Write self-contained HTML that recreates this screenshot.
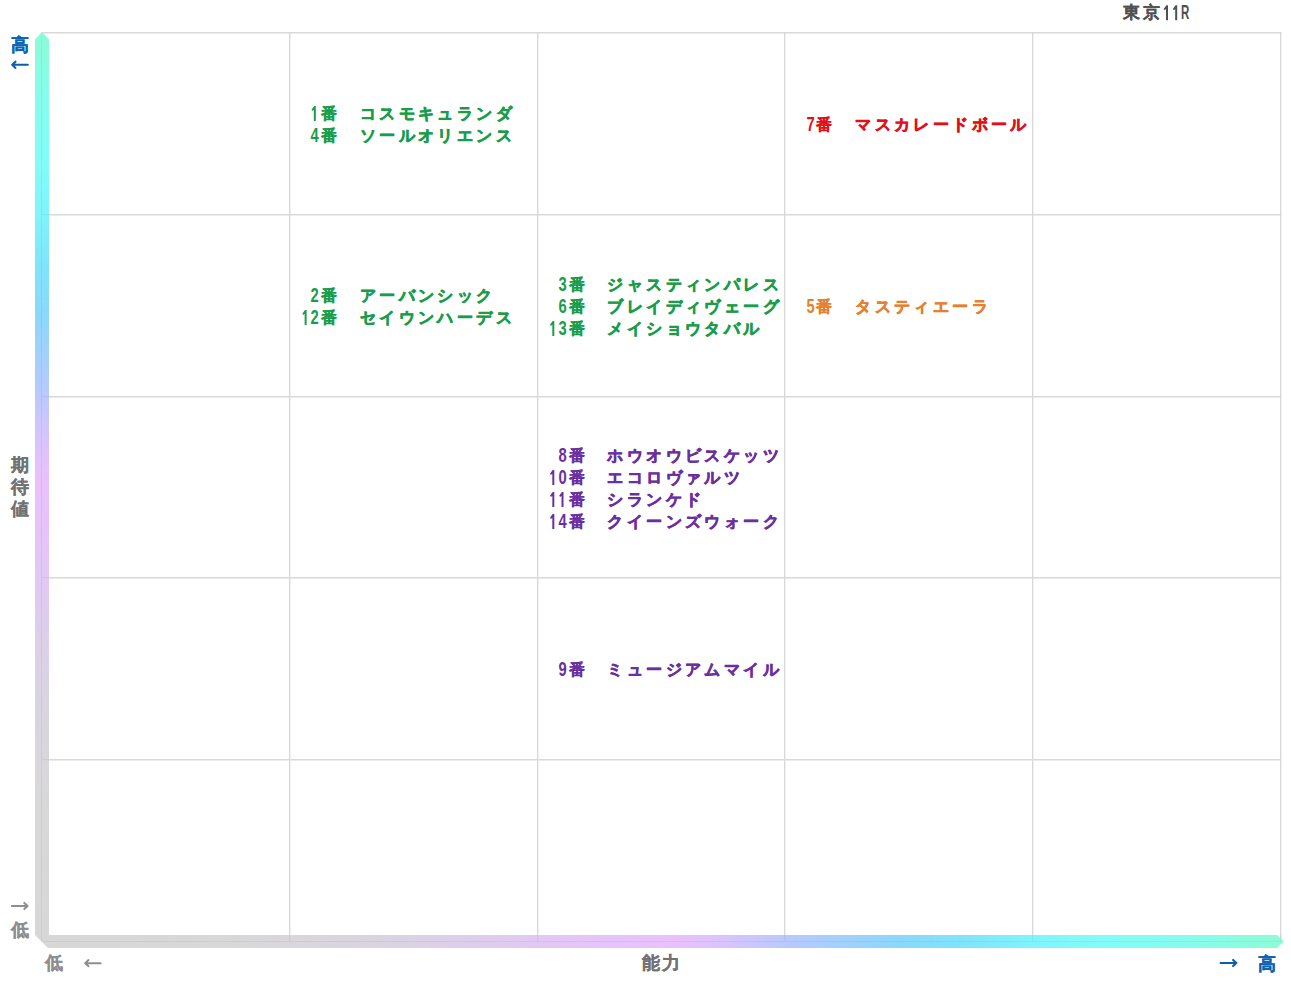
<!DOCTYPE html>
<html><head><meta charset="utf-8">
<style>
html,body{margin:0;padding:0;background:#fff;}
body{width:1291px;height:983px;position:relative;overflow:hidden;font-family:"Liberation Sans",sans-serif;font-weight:bold;}
.t{position:absolute;white-space:pre;font-size:18px;line-height:22px;letter-spacing:1px;}
.g{color:#1a9d4b}.r{color:#e0111b}.o{color:#e57f31}.p{color:#6b2f9f}
.lab{position:absolute;font-size:18px;line-height:18px;white-space:pre;}
.blue{color:#0b63b3}.grey{color:#727272}.lgrey{color:#8e8e8e}
.n2{display:inline-block;font-size:20px;letter-spacing:2.5px;transform:scaleX(.65);transform-origin:0 50%;-webkit-text-stroke:0;position:relative;left:0px;top:1px;}

.blk{position:absolute;width:247px;height:181px;display:flex;align-items:center;}
.in{position:relative;top:2px;margin-left:0px;font-size:16px;line-height:22px;letter-spacing:3.4px;white-space:pre;-webkit-text-stroke:0.6px currentColor;}
.in div{height:22px;}
.n{display:inline-block;width:30px;margin-right:1.5px;text-align:right;font-size:0;letter-spacing:0;vertical-align:top;line-height:22px;-webkit-text-stroke:0;white-space:nowrap;}
.d{display:inline-block;width:12.78px;margin-right:-3.58px;font-size:20.5px;text-align:center;transform:scaleX(.72);transform-origin:0 50%;font-style:normal;line-height:22px;vertical-align:top;position:relative;top:-1px;}
.one{display:inline-block;width:9.2px;height:22px;vertical-align:top;position:relative;}
.one::after{content:"";position:absolute;left:0;top:0;width:9.2px;height:22px;background:currentColor;
clip-path:polygon(4.0px 3.6px,5.5px 3.6px,5.5px 18.6px,3.5px 18.6px,3.5px 7.2px,2.2px 8.6px,1.2px 7.3px,3.3px 4.3px);}
.lab{-webkit-text-stroke:0.2px currentColor;}
.ban{-webkit-text-stroke:0.25px currentColor;}
</style></head><body>
<svg width="1291" height="983" style="position:absolute;left:0;top:0">
<defs>
<linearGradient id="gv" gradientUnits="userSpaceOnUse" x1="0" y1="941" x2="0" y2="32"><stop offset="0" stop-color="#d7d7d7"/><stop offset="0.15" stop-color="#d8d8d8"/>
<stop offset="0.265" stop-color="#d9d4e0"/><stop offset="0.322" stop-color="#dcd0e8"/>
<stop offset="0.40" stop-color="#e1c8f4"/><stop offset="0.448" stop-color="#e5c4fa"/>
<stop offset="0.51" stop-color="#eac0fc"/><stop offset="0.553" stop-color="#d8c4fc"/>
<stop offset="0.60" stop-color="#bac9fc"/><stop offset="0.642" stop-color="#a4d0fc"/>
<stop offset="0.692" stop-color="#8ad8fc"/><stop offset="0.741" stop-color="#7fe4fa"/>
<stop offset="0.80" stop-color="#80f4fc"/><stop offset="0.86" stop-color="#82fcf8"/>
<stop offset="0.93" stop-color="#86fcec"/><stop offset="1" stop-color="#8cfcd6"/></linearGradient>
<linearGradient id="gh" gradientUnits="userSpaceOnUse" x1="42" y1="0" x2="1280" y2="0"><stop offset="0" stop-color="#d7d7d7"/><stop offset="0.15" stop-color="#d8d8d8"/>
<stop offset="0.265" stop-color="#d9d4e0"/><stop offset="0.322" stop-color="#dcd0e8"/>
<stop offset="0.40" stop-color="#e1c8f4"/><stop offset="0.448" stop-color="#e5c4fa"/>
<stop offset="0.51" stop-color="#eac0fc"/><stop offset="0.553" stop-color="#d8c4fc"/>
<stop offset="0.60" stop-color="#bac9fc"/><stop offset="0.642" stop-color="#a4d0fc"/>
<stop offset="0.692" stop-color="#8ad8fc"/><stop offset="0.741" stop-color="#7fe4fa"/>
<stop offset="0.80" stop-color="#80f4fc"/><stop offset="0.86" stop-color="#82fcf8"/>
<stop offset="0.93" stop-color="#86fcec"/><stop offset="1" stop-color="#8cfcd6"/></linearGradient>
</defs>
<g stroke="#d9d9d9" stroke-width="1.4">
<line x1="42" y1="32.7" x2="1281.4" y2="32.7"/>
<line x1="42" y1="214.7" x2="1281.4" y2="214.7"/>
<line x1="42" y1="396.7" x2="1281.4" y2="396.7"/>
<line x1="42" y1="577.7" x2="1281.4" y2="577.7"/>
<line x1="42" y1="759.7" x2="1281.4" y2="759.7"/>
<line x1="289.7" y1="32" x2="289.7" y2="941"/>
<line x1="537.7" y1="32" x2="537.7" y2="941"/>
<line x1="784.7" y1="32" x2="784.7" y2="941"/>
<line x1="1032.7" y1="32" x2="1032.7" y2="941"/>
<line x1="1280.7" y1="32" x2="1280.7" y2="941"/>
</g>
<polygon points="35,39.5 42,32 49,39.5 49,935 35,935" fill="url(#gv)"/>
<polygon points="35,935 1277,935 1284,941.5 1277,948 48,948" fill="url(#gh)"/>
<line x1="41.5" y1="36" x2="41.5" y2="941" stroke="#000" stroke-opacity="0.045"/>
<line x1="42" y1="941.5" x2="1281" y2="941.5" stroke="#000" stroke-opacity="0.045"/>
<line x1="289.7" y1="935" x2="289.7" y2="941" stroke="#000" stroke-opacity="0.06"/>
<line x1="537.7" y1="935" x2="537.7" y2="941" stroke="#000" stroke-opacity="0.06"/>
<line x1="784.7" y1="935" x2="784.7" y2="941" stroke="#000" stroke-opacity="0.06"/>
<line x1="1032.7" y1="935" x2="1032.7" y2="941" stroke="#000" stroke-opacity="0.06"/>
<line x1="1280.7" y1="935" x2="1280.7" y2="941" stroke="#000" stroke-opacity="0.06"/>
<line x1="42" y1="214.7" x2="49" y2="214.7" stroke="#000" stroke-opacity="0.06"/>
<line x1="42" y1="396.7" x2="49" y2="396.7" stroke="#000" stroke-opacity="0.06"/>
<line x1="42" y1="577.7" x2="49" y2="577.7" stroke="#000" stroke-opacity="0.06"/>
<line x1="42" y1="759.7" x2="49" y2="759.7" stroke="#000" stroke-opacity="0.06"/>
</svg>
<div class="lab" style="left:1123px;top:4px;color:#505050;font-size:17px;letter-spacing:2.5px;-webkit-text-stroke:0.15px #505050">東京</div>
<div style="position:absolute;left:1162.5px;top:1.7px;line-height:22px;color:#505050;font-weight:bold;white-space:nowrap;font-size:0"><i class="one"></i><i class="one"></i><i class="d" style="transform:scaleX(.56);margin-left:0px">R</i></div>
<div class="blk g" style="left:289.5px;top:32px"><div class="in"><div><span class="n"><i class="one"></i></span><span class="ban">番</span>　コスモキュランダ</div><div><span class="n"><i class="d">4</i></span><span class="ban">番</span>　ソールオリエンス</div></div></div>
<div class="blk r" style="left:784.8px;top:32px"><div class="in"><div><span class="n"><i class="d">7</i></span><span class="ban">番</span>　マスカレードボール</div></div></div>
<div class="blk g" style="left:289.5px;top:214px"><div class="in"><div><span class="n"><i class="d">2</i></span><span class="ban">番</span>　アーバンシック</div><div><span class="n"><i class="one"></i><i class="d">2</i></span><span class="ban">番</span>　セイウンハーデス</div></div></div>
<div class="blk g" style="left:537.2px;top:214px"><div class="in"><div><span class="n"><i class="d">3</i></span><span class="ban">番</span>　ジャスティンパレス</div><div><span class="n"><i class="d">6</i></span><span class="ban">番</span>　ブレイディヴェーグ</div><div><span class="n"><i class="one"></i><i class="d">3</i></span><span class="ban">番</span>　メイショウタバル</div></div></div>
<div class="blk o" style="left:784.8px;top:214px"><div class="in"><div><span class="n"><i class="d">5</i></span><span class="ban">番</span>　タスティエーラ</div></div></div>
<div class="blk p" style="left:537.2px;top:396px"><div class="in"><div><span class="n"><i class="d">8</i></span><span class="ban">番</span>　ホウオウビスケッツ</div><div><span class="n"><i class="one"></i><i class="d">0</i></span><span class="ban">番</span>　エコロヴァルツ</div><div><span class="n"><i class="one"></i><i class="one"></i></span><span class="ban">番</span>　シランケド</div><div><span class="n"><i class="one"></i><i class="d">4</i></span><span class="ban">番</span>　クイーンズウォーク</div></div></div>
<div class="blk p" style="left:537.2px;top:577px"><div class="in"><div><span class="n"><i class="d">9</i></span><span class="ban">番</span>　ミュージアムマイル</div></div></div>
<svg width="1291" height="983" style="position:absolute;left:0;top:0"><path d="M27.8,64.8 L12.2,64.8 M15.5,61.699999999999996 L12.2,64.8 L15.5,67.89999999999999" stroke="#0b5fa8" stroke-width="2.1" fill="none" stroke-linecap="round" stroke-linejoin="round"/><path d="M11.8,906 L27.6,906 M24.3,902.9 L27.6,906 L24.3,909.1" stroke="#8e8e8e" stroke-width="2" fill="none" stroke-linecap="round" stroke-linejoin="round"/><path d="M100.6,963.2 L85.2,963.2 M88.5,960.1 L85.2,963.2 L88.5,966.3000000000001" stroke="#8e8e8e" stroke-width="2" fill="none" stroke-linecap="round" stroke-linejoin="round"/><path d="M1220.6,963 L1236.4,963 M1233.1000000000001,959.9 L1236.4,963 L1233.1000000000001,966.1" stroke="#0b5fa8" stroke-width="2.1" fill="none" stroke-linecap="round" stroke-linejoin="round"/></svg><div class="lab blue" style="left:11px;top:36px">高</div>
<div class="lab grey" style="left:11px;top:456px">期</div>
<div class="lab grey" style="left:11px;top:478px">待</div>
<div class="lab grey" style="left:11px;top:500px">値</div>
<div class="lab lgrey" style="left:11px;top:921px">低</div>
<div class="lab lgrey" style="left:45px;top:954px">低</div>
<div class="lab grey" style="left:642px;top:954px;letter-spacing:1.5px">能力</div>
<div class="lab blue" style="left:1258px;top:955px">高</div>
</body></html>
